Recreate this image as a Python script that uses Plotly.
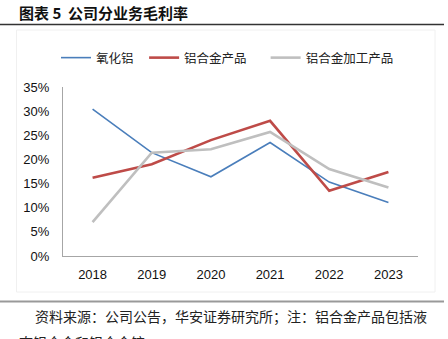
import plotly.graph_objects as go

years = ["2018", "2019", "2020", "2021", "2022", "2023"]
alumina = [0.304, 0.214, 0.164, 0.235, 0.153, 0.111]
alloy = [0.162, 0.190, 0.240, 0.280, 0.135, 0.174]
alloy_proc = [0.070, 0.214, 0.221, 0.257, 0.180, 0.142]
series_names = ["氧化铝", "铝合金产品", "铝合金加工产品"]
y_ticks = [0, 0.05, 0.10, 0.15, 0.20, 0.25, 0.30, 0.35]

W, H = 448, 339
CJK = "Noto Sans CJK SC"
LAT = "Liberation Sans, Arial"
NB = "\u00a0"

fig = go.Figure()
fig.add_trace(go.Scatter(x=years, y=alumina, name=series_names[0] + NB * 2, mode="lines",
                         line=dict(color="#4a7ebb", width=1.6)))
fig.add_trace(go.Scatter(x=years, y=alloy, name=series_names[1] + NB * 5, mode="lines",
                         line=dict(color="#be4b48", width=2.6)))
fig.add_trace(go.Scatter(x=years, y=alloy_proc, name=series_names[2], mode="lines",
                         line=dict(color="#bfbfbf", width=2.6)))


def px(x):
    return x / W


def py(y):
    return 1 - y / H


fig.update_layout(
    template="none",
    width=W, height=H,
    margin=dict(l=0, r=0, t=0, b=0, autoexpand=False),
    paper_bgcolor="white", plot_bgcolor="white",
    showlegend=True,
    legend=dict(orientation="h", x=px(56), xanchor="left", y=py(58), yanchor="middle",
                font=dict(family=CJK, size=12.5, color="#222"),
                itemwidth=30, tracegroupgap=0, bgcolor="rgba(0,0,0,0)"),
    xaxis=dict(domain=[px(63), px(418)], type="category", range=[-0.5, 5.5],
               showgrid=False, automargin=False,
               showline=True, linecolor="#a6a6a6", linewidth=1, ticks="",
               ticklabelstandoff=6,
               tickfont=dict(family=LAT, size=13, color="#111"), fixedrange=True),
    yaxis=dict(domain=[py(256), py(87)], range=[0, 0.35], tickvals=y_ticks, tickformat=".0%",
               showgrid=False, zeroline=False, showline=True, linecolor="#a6a6a6",
               linewidth=1, ticks="", ticklabelstandoff=10, automargin=False,
               tickfont=dict(family=LAT, size=13, color="#111"), fixedrange=True),
)

fig.update_layout(shapes=[
    dict(type="line", xref="paper", yref="paper", x0=0, x1=px(444),
         y0=py(24.5), y1=py(24.5), line=dict(color="#333", width=1.5)),
    dict(type="rect", xref="paper", yref="paper", x0=px(16.5), x1=px(435),
         y0=py(292), y1=py(30), line=dict(color="#f0f0f0", width=1)),
    dict(type="line", xref="paper", yref="paper", x0=0, x1=px(444),
         y0=py(301.5), y1=py(301.5), line=dict(color="#999", width=2.2)),
])

annotations = [
    dict(text="<b>图表 5  公司分业务毛利率</b>", xref="paper", yref="paper",
         x=px(17), y=py(12), xanchor="left", yanchor="middle", showarrow=False,
         font=dict(family=CJK, size=15, color="#111")),
    dict(text="资料来源：公司公告，华安证券研究所；注：铝合金产品包括液", xref="paper", yref="paper",
         x=px(33), y=py(316), xanchor="left", yanchor="middle", showarrow=False,
         font=dict(family=CJK, size=14, color="#222")),
    dict(text="态铝合金和铝合金锭", xref="paper", yref="paper",
         x=px(17), y=py(342), xanchor="left", yanchor="middle", showarrow=False,
         font=dict(family=CJK, size=14, color="#222")),
]
fig.update_layout(annotations=annotations)

fig.write_html("out.html")
